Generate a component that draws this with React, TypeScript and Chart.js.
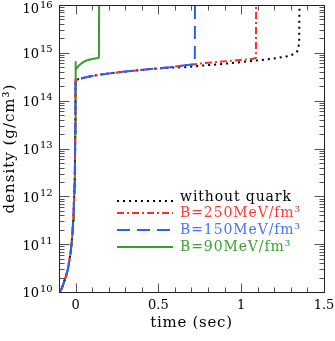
import React, { useEffect, useRef } from "react";
import { Chart, registerables } from "chart.js";

Chart.register(...registerables);

// ---- data (time in sec, density in g/cm^3) ----
const riseTime = [-0.1, -0.087, -0.073, -0.059, -0.047, -0.03, -0.02, -0.014, -0.01, -0.006, -0.004, -0.002, 0];
const riseDensity = [1e10, 1.1e10, 1.5e10, 2.1e10, 2.9e10, 6.5e10, 1.45e11, 3.2e11, 7.2e11, 1.6e12, 3.5e12, 2e13, 2.7e14];

const plateauTime = [0.03, 0.065, 0.1, 0.166, 0.25, 0.368, 0.45];
const plateauDensity = [2.9e14, 3.1e14, 3.27e14, 3.58e14, 3.89e14, 4.27e14, 4.57e14];

const noQuarkTime = [0.57, 0.66, 0.76, 0.862, 0.96, 1.065, 1.15, 1.226, 1.28, 1.307, 1.33, 1.345, 1.35, 1.352];
const noQuarkDensity = [4.9e14, 5.0e14, 5.4e14, 5.75e14, 6.2e14, 6.75e14, 7.25e14, 7.9e14, 8.5e14, 9.1e14, 1.0e15, 1.15e15, 1.8e15, 1e16];

const b250Time = [0.57, 0.66, 0.72, 0.8, 0.862, 0.95, 1.065, 1.085, 1.089, 1.09];
const b250Density = [5.0e14, 5.5e14, 5.8e14, 6.2e14, 6.45e14, 6.9e14, 7.4e14, 7.8e14, 7.9e14, 1e16];

const b150Time = [0.57, 0.66, 0.72, 0.721];
const b150Density = [5.0e14, 5.5e14, 5.75e14, 1e16];

const b90Time = [0.0005, 0.001, 0.012, 0.024, 0.044, 0.065, 0.1, 0.135, 0.141, 0.142];
const b90Density = [6.7e14, 4.4e14, 5.0e14, 5.6e14, 6.3e14, 6.9e14, 7.4e14, 7.8e14, 8.0e14, 1e16];

const seriesLabels = ["without quark", "B=250MeV/fm³", "B=150MeV/fm³", "B=90MeV/fm³"];
const seriesColors = ["#000000", "#ff2a2a", "#2f5cff", "#34a02c"];
const seriesTextColors = ["#000000", "#ff3a3a", "#4a74ff", "#3fa036"];
const seriesDashes: number[][] = [[2, 4], [7, 3, 2, 3], [13, 7], []];

const xMajorTicks = [0, 0.5, 1, 1.5];
const xMajorLabels = ["0", "0.5", "1", "1.5"];
const yExponents = [10, 11, 12, 13, 14, 15, 16];

const FONT = "'DejaVu Serif', serif";

function pts(xs: number[], ys: number[]) {
  return xs.map((x, i) => ({ x, y: ys[i] }));
}

const axesPlugin = {
  id: "customAxes",
  afterDatasetsDraw(chart: any) {
    const { ctx, chartArea: a, scales } = chart;
    const xs = scales.x;
    const ys = scales.y;
    const L = Math.round(a.left) + 0.5;
    const R = Math.round(a.right) + 0.5;
    const T = Math.round(a.top) + 0.5;
    const B = Math.round(a.bottom) + 0.5;
    ctx.save();
    // ticks
    ctx.strokeStyle = "#555";
    ctx.lineWidth = 1;
    ctx.beginPath();
    for (let i = -1; i <= 15; i++) {
      const v = i / 10;
      const px = Math.round(xs.getPixelForValue(v)) + 0.5;
      if (px <= L + 1 || px >= R - 1) continue;
      const major = xMajorTicks.some((m) => Math.abs(m - v) < 1e-9);
      const len = major ? 9 : 5;
      ctx.moveTo(px, B);
      ctx.lineTo(px, B - len);
      ctx.moveTo(px, T);
      ctx.lineTo(px, T + len);
    }
    for (let e = 10; e <= 16; e++) {
      for (let m = 1; m <= 9; m++) {
        if (e === 16 && m > 1) continue;
        const v = m * Math.pow(10, e);
        const py = Math.round(ys.getPixelForValue(v)) + 0.5;
        if (py <= T + 1 || py >= B - 1) continue;
        const len = m === 1 ? 10 : 5;
        ctx.moveTo(L, py);
        ctx.lineTo(L + len, py);
        ctx.moveTo(R, py);
        ctx.lineTo(R - len, py);
      }
    }
    ctx.stroke();
    // frame
    ctx.strokeStyle = "#222";
    ctx.strokeRect(L, T, R - L, B - T);

    // x tick labels
    ctx.fillStyle = "#000";
    ctx.font = `13px ${FONT}`;
    ctx.textAlign = "center";
    ctx.textBaseline = "middle";
    xMajorTicks.forEach((v, i) => {
      ctx.fillText(xMajorLabels[i], xs.getPixelForValue(v), B + 13);
    });

    // y tick labels 10^n
    yExponents.forEach((e) => {
      const py = ys.getPixelForValue(Math.pow(10, e));
      const cy = Math.max(10, py + 2);
      ctx.font = `13px ${FONT}`;
      ctx.textAlign = "right";
      ctx.textBaseline = "middle";
      ctx.fillText("10", 39, cy);
      ctx.font = `10px ${FONT}`;
      ctx.textAlign = "left";
      ctx.fillText(String(e), 40, cy - 5);
    });

    // axis titles
    (ctx as any).letterSpacing = "0.7px";
    ctx.font = `15px ${FONT}`;
    ctx.textAlign = "center";
    ctx.textBaseline = "middle";
    ctx.fillText("time (sec)", (a.left + a.right) / 2, 323);
    ctx.save();
    (ctx as any).letterSpacing = "1px";
    ctx.translate(10, (a.top + a.bottom) / 2);
    ctx.rotate(-Math.PI / 2);
    ctx.fillText("density (g/cm³)", 0, 0);
    ctx.restore();

    // legend
    const rowText = [197, 213, 230, 247];
    const rowLine = [201, 213, 230, 247];
    (ctx as any).letterSpacing = "0.9px";
    ctx.font = `14px ${FONT}`;
    ctx.textAlign = "left";
    ctx.textBaseline = "middle";
    seriesLabels.forEach((lab, i) => {
      ctx.save();
      ctx.strokeStyle = seriesColors[i];
      ctx.lineWidth = 2;
      ctx.setLineDash(seriesDashes[i]);
      ctx.beginPath();
      ctx.moveTo(117, rowLine[i]);
      ctx.lineTo(173, rowLine[i]);
      ctx.stroke();
      ctx.restore();
      ctx.fillStyle = seriesTextColors[i];
      ctx.fillText(lab, 180, rowText[i]);
    });
    ctx.restore();
  },
};

export default function App() {
  const ref = useRef<HTMLCanvasElement | null>(null);
  useEffect(() => {
    if (!ref.current) return;
    const seriesData = [
      pts([...riseTime, ...plateauTime, ...noQuarkTime], [...riseDensity, ...plateauDensity, ...noQuarkDensity]),
      pts([...riseTime, ...plateauTime, ...b250Time], [...riseDensity, ...plateauDensity, ...b250Density]),
      pts([...riseTime, ...plateauTime, ...b150Time], [...riseDensity, ...plateauDensity, ...b150Density]),
      pts([...riseTime, ...b90Time], [...riseDensity, ...b90Density]),
    ];
    const drawOrder = [2, 1, 0, 3];
    const chart = new Chart(ref.current, {
      type: "line",
      data: {
        datasets: seriesLabels.map((label, i) => ({
          label,
          data: seriesData[i],
          borderColor: seriesColors[i],
          borderDash: seriesDashes[i],
          borderWidth: 2,
          pointRadius: 0,
          tension: 0,
          fill: false,
          order: drawOrder[i],
        })),
      },
      options: {
        responsive: false,
        animation: false,
        devicePixelRatio: 1,
        layout: { padding: { left: 59, right: 11, top: 5, bottom: 49 } },
        plugins: { legend: { display: false }, tooltip: { enabled: false } },
        scales: {
          x: { type: "linear", min: -0.1, max: 1.5, display: false },
          y: { type: "logarithmic", min: 1e10, max: 1e16, display: false },
        },
      },
      plugins: [axesPlugin],
    });
    return () => chart.destroy();
  }, []);
  return (
    <div style={{ position: "absolute", left: 0, top: 0, width: 335, height: 341, background: "#fff" }}>
      <canvas ref={ref} width={335} height={341} />
    </div>
  );
}
